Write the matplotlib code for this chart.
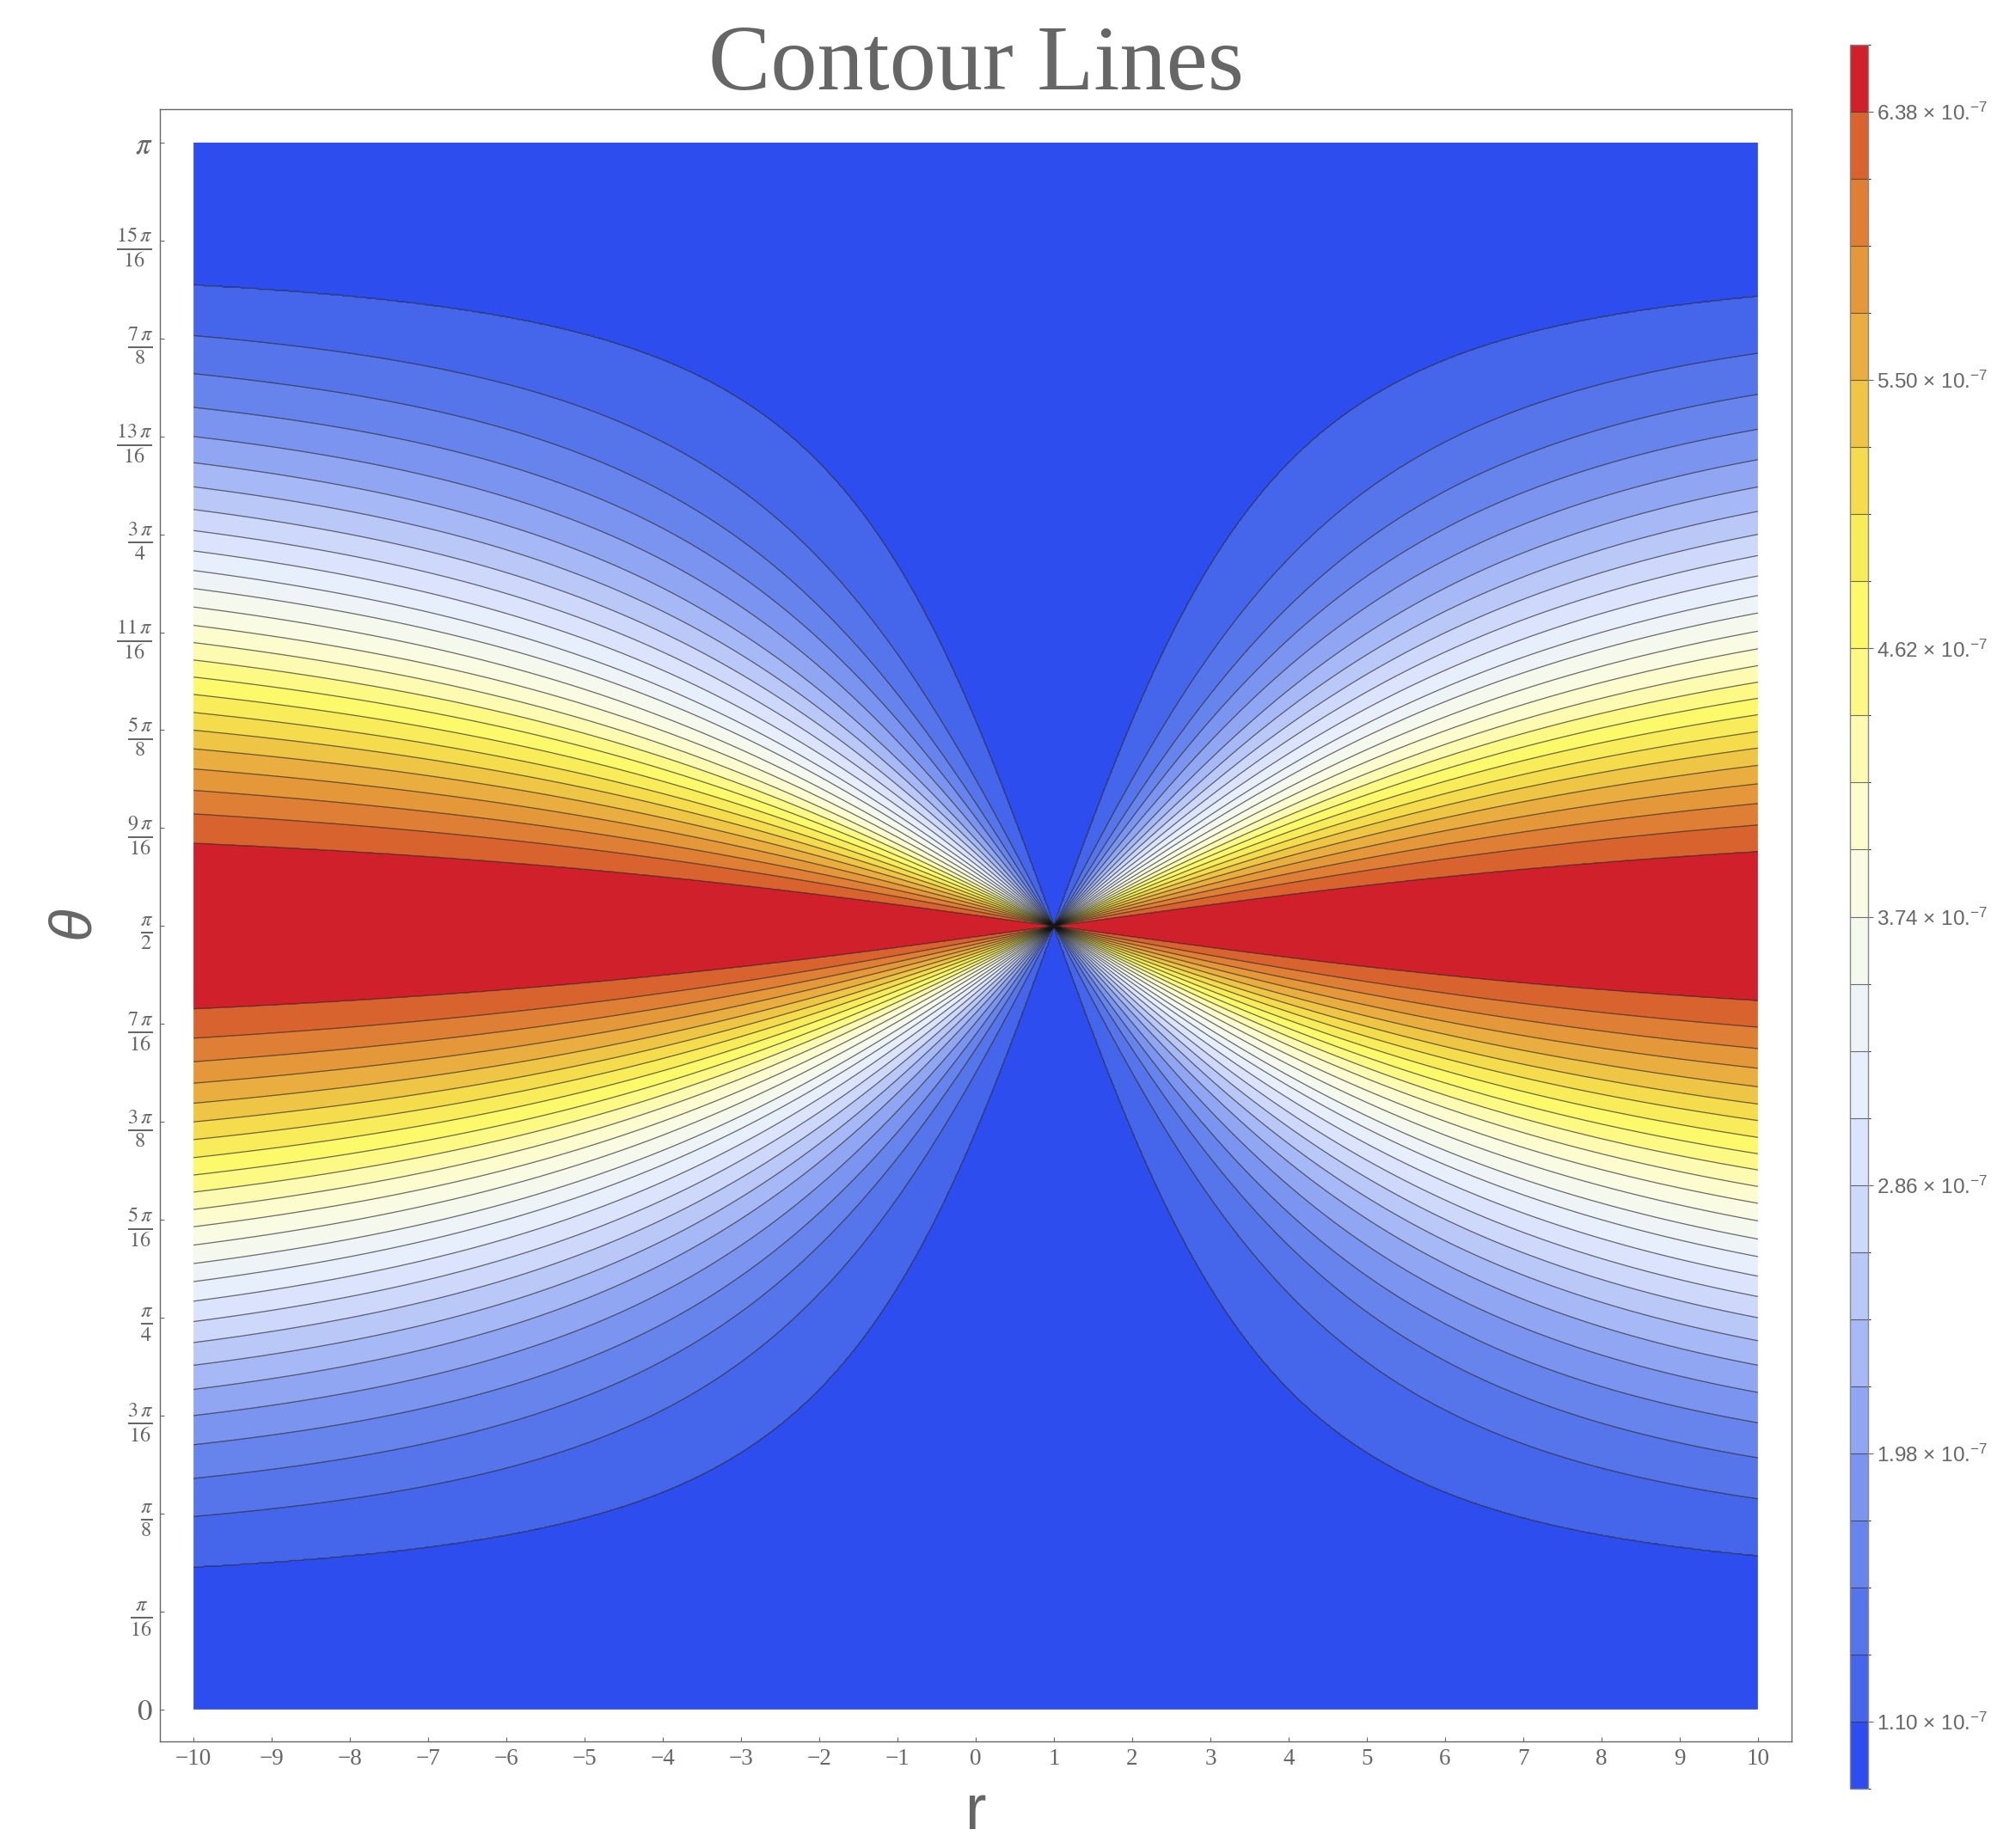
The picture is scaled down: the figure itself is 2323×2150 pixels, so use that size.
"""
Contour plot of the field around r = 1, theta = pi/2
with a banded temperature-map legend
"""

import numpy as np
import matplotlib
matplotlib.use('Agg')
import matplotlib.pyplot as plt
from matplotlib.colors import ListedColormap, BoundaryNorm

plt.rcParams['font.family'] = 'Liberation Serif'
plt.rcParams['mathtext.fontset'] = 'custom'
plt.rcParams['mathtext.rm'] = 'Liberation Sans'
plt.rcParams['mathtext.it'] = 'Liberation Sans:italic'

GRAY = '#666666'

# contour levels (units of 1e-7)
levels = [1.10, 1.32, 1.54, 1.76, 1.98, 2.20, 2.42, 2.64, 2.86, 3.08,
          3.30, 3.52, 3.74, 3.96, 4.18, 4.40, 4.62, 4.84, 5.06, 5.28,
          5.50, 5.72, 5.94, 6.16, 6.38]
bar_ticks = [1.10, 1.98, 2.86, 3.74, 4.62, 5.50, 6.38]
bar_range = [0.88, 6.60]

# theta/pi where each level crosses the left edge (r = -10), upper half
theta_edge = [0.9089, 0.8768, 0.8525, 0.8310, 0.8124, 0.7957, 0.7803,
              0.7658, 0.7524, 0.7394, 0.7269, 0.7154, 0.7036, 0.6919,
              0.6809, 0.6698, 0.6589, 0.6478, 0.6363, 0.6250, 0.6131,
              0.6003, 0.5866, 0.5716, 0.5530]
# distance from r = 1 over which each level line bends over to flat
bend = [3.1, 4.2, 4.8, 5.2, 5.6, 6.0, 6.3, 6.6, 6.9, 7.2, 7.5, 7.7, 8.0,
        8.2, 8.5, 8.7, 8.9, 9.1, 9.3, 9.5, 9.7, 9.9, 10.1, 10.3, 10.5]

r_range = [-10, 10]
r_center = 1.0

theta_ticks = np.arange(17) * np.pi / 16
theta_labels = [r'$0$', r'$\frac{\pi}{16}$', r'$\frac{\pi}{8}$',
                r'$\frac{3\,\pi}{16}$', r'$\frac{\pi}{4}$',
                r'$\frac{5\,\pi}{16}$', r'$\frac{3\,\pi}{8}$',
                r'$\frac{7\,\pi}{16}$', r'$\frac{\pi}{2}$',
                r'$\frac{9\,\pi}{16}$', r'$\frac{5\,\pi}{8}$',
                r'$\frac{11\,\pi}{16}$', r'$\frac{3\,\pi}{4}$',
                r'$\frac{13\,\pi}{16}$', r'$\frac{7\,\pi}{8}$',
                r'$\frac{15\,\pi}{16}$', r'$\pi$']

band_colors = ['#2D4DEF', '#4566EA', '#5675EB', '#6784EC', '#7B94EF',
               '#91A6F2', '#A6B8F5', '#BAC8F8', '#CDD8FB', '#DCE4FD',
               '#E7EEFC', '#EEF3F8', '#F5F8EC', '#F9FBE3', '#FDFCCE',
               '#FDFBB2', '#FCF985', '#FCF96A', '#F9EC5A', '#F4DC4C',
               '#EFC545', '#E9AE3F', '#E4983A', '#DF7F35', '#D9632F',
               '#D0202C']


def build_field(r, theta):
    lv = np.array(levels)
    a = np.array(bend)
    y_edge = (np.array(theta_edge) - 0.5) * np.pi
    d_edge = r_center - r_range[0]
    amp = y_edge * np.sqrt(d_edge**2 + a**2) / d_edge

    dy = np.abs(theta - np.pi / 2)
    field = np.empty((theta.size, r.size))
    fp = np.concatenate([[bar_range[1] - 0.01], lv[::-1],
                         [bar_range[0] + 0.01]])
    for j, rj in enumerate(r):
        d = abs(rj - r_center)
        yk = amp * d / np.sqrt(d**2 + a**2)
        xp = np.concatenate([[0.0], yk[::-1], [np.pi]])
        field[:, j] = np.interp(dy, xp, fp)
    return field


r = np.linspace(r_range[0], r_range[1], 1400)
theta = np.linspace(0, np.pi, 1400)
field = build_field(r, theta)

bounds = [bar_range[0]] + levels + [bar_range[1]]
cmap = ListedColormap(band_colors)
norm = BoundaryNorm(bounds, cmap.N)

fig = plt.figure(figsize=(23.23, 21.5), dpi=100)
ax = fig.add_axes([186 / 2323, 1 - 2026 / 2150,
                   (2084 - 186) / 2323, (2026 - 127) / 2150])

cf = ax.contourf(r, theta, field, levels=bounds, cmap=cmap, norm=norm,
                 antialiased=True)
ax.contour(r, theta, field, levels=levels, colors='#141414',
           linewidths=0.9, alpha=0.62)

ax.set_xlim(-10.43, 10.43)
ax.set_ylim(-0.064, np.pi + 0.067)

ax.set_xticks(np.arange(-10, 11))
ax.set_xticklabels([str(v).replace('-', '\u2212') for v in range(-10, 11)],
                   fontsize=19.5, color=GRAY)
ax.set_yticks(theta_ticks)
ax.set_yticklabels(theta_labels, fontsize=25, color=GRAY,
                   math_fontfamily='stix')
ax.tick_params(direction='in', length=3.8, width=0.8, color=GRAY,
               top=False, right=False)
ax.tick_params(axis='x', pad=6)
ax.tick_params(axis='y', pad=6)
for sp in ax.spines.values():
    sp.set_color(GRAY)
    sp.set_linewidth(1.0)

fig.text(1135 / 2323, 1 - 104 / 2150, 'Contour Lines', ha='center',
         va='baseline', fontsize=78, color=GRAY)
fig.text(1135 / 2323, 1 - 2128 / 2150, 'r', ha='center', va='baseline',
         fontsize=53, color=GRAY, family='Liberation Sans')
fig.text(85 / 2323, 1 - 1073 / 2150, '\u03b8', ha='center', va='center',
         rotation=90, fontsize=50, color=GRAY, family='Liberation Sans',
         style='italic')

# bar legend
cax = fig.add_axes([2152 / 2323, 1 - 2081 / 2150, 21 / 2323, 2029 / 2150])
cb = fig.colorbar(cf, cax=cax, ticks=bar_ticks)
cb.set_ticklabels(['{:.2f} \u00d7 10.$^{{-7}}$'.format(t) for t in bar_ticks])
for lv in levels:
    cax.axhline(lv, color='#333333', lw=0.8, alpha=0.7)
cb.outline.set_edgecolor('#888888')
cb.outline.set_linewidth(1.0)
cax.tick_params(length=4.5, width=0.8, color=GRAY, labelsize=17.5,
                labelcolor=GRAY, pad=3)
for t in cax.get_yticklabels():
    t.set_family('Liberation Sans')

fig.savefig('out.png', dpi=100)
